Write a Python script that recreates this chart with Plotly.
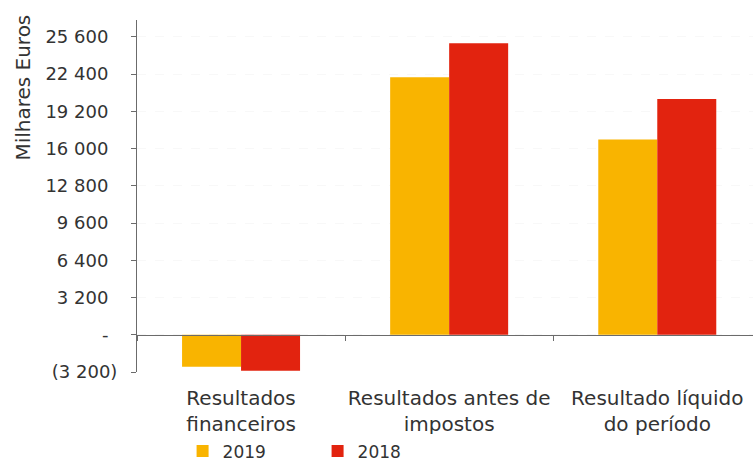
import plotly.graph_objects as go

# Categories and values (thousands of euros)
categories = ["Resultados<br>financeiros", "Resultados antes de<br>impostos", "Resultado líquido<br>do período"]
values_2019 = [-2740, 22140, 16780]
values_2018 = [-3090, 25050, 20270]

tick_values = [-3200, 0, 3200, 6400, 9600, 12800, 16000, 19200, 22400, 25600]
tick_labels = ["(3 200)", "-", "3 200", "6 400", "9 600", "12 800", "16 000", "19 200", "22 400", "25 600"]

y_range = [-3200, 27050]
font_family = "'DejaVu Sans', sans-serif"
text_color = "#333333"
axis_color = "#6b6b6b"

# positive labels carry a trailing en space so digits line up with "(3 200)"
tick_text = [t if t.startswith("(") else t + "\u2002" for t in tick_labels]

fig = go.Figure()
fig.add_trace(go.Bar(x=categories, y=values_2019, name="2019", marker=dict(color="#F9B400", line_width=0)))
fig.add_trace(go.Bar(x=categories, y=values_2018, name="2018", marker=dict(color="#E2230F", line_width=0)))

# category axis sits on the zero line
zero_pos = (0 - y_range[0]) / (y_range[1] - y_range[0])

fig.update_layout(
    width=753, height=461,
    margin=dict(l=137, r=0, t=20, b=89, autoexpand=False),
    paper_bgcolor="white", plot_bgcolor="white",
    font=dict(family=font_family, size=18, color=text_color),
    barmode="group", bargap=0.433, bargroupgap=0,
    showlegend=True,
    legend=dict(orientation="h", x=0.074, y=-0.226, xanchor="left", yanchor="middle",
                font=dict(size=17), itemwidth=30, entrywidth=90, traceorder="normal"),
    xaxis=dict(
        type="category", range=[-0.5, 2.46],
        anchor="free", position=zero_pos,
        showline=True, linecolor=axis_color, linewidth=1,
        ticks="outside", tickson="boundaries", ticklen=5, tickcolor=axis_color,
        ticklabelstandoff=45, tickangle=0,
        showgrid=False, zeroline=False,
        tickfont=dict(size=20),
    ),
    yaxis=dict(
        range=y_range,
        tickvals=tick_values, ticktext=tick_text,
        showline=True, linecolor=axis_color, linewidth=1,
        ticks="outside", ticklen=5, tickcolor=axis_color,
        ticklabelstandoff=10,
        showgrid=True, gridcolor="#f8f8f8", griddash="dash",
        zeroline=False,
        tickfont=dict(size=18),
    ),
    annotations=[dict(
        text="Milhares Euros", textangle=-90,
        xref="paper", yref="paper", x=-0.185, y=0.808,
        xanchor="center", yanchor="middle", showarrow=False,
        font=dict(size=20, color=text_color),
    )],
)

fig.write_html("out.html")
